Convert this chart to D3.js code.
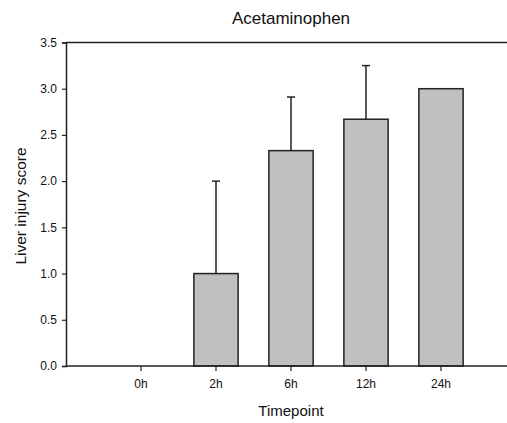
<!DOCTYPE html>
<html>
<head>
<meta charset="utf-8">
<script src="https://cdn.jsdelivr.net/npm/d3@7"></script>
<style>
  html, body { margin: 0; padding: 0; background: #fff; }
  svg { display: block; font-family: "Liberation Sans", Arial, sans-serif; }
</style>
</head>
<body>
<svg id="canvas" width="507" height="423"></svg>
<script>
// Chart data
const timepoints = ["0h", "2h", "6h", "12h", "24h"];
const scores = [0, 1.0, 2.33, 2.67, 3.0];
const errors = [0, 1.0, 0.58, 0.58, 0];
const yTicks = [0, 0.5, 1.0, 1.5, 2.0, 2.5, 3.0, 3.5];

const svg = d3.select("#canvas");
const [pl, pr, pt, pb] = [66, 516, 42.5, 366];

// the axis spans one extra category slot on each side (cropped on the right)
const step = (pr - pl) / (timepoints.length + 1);
const x = d3.scaleBand()
  .domain(timepoints)
  .range([pl + step / 2, pr - step / 2])
  .paddingInner(0.41)
  .paddingOuter(0.205);
const y = d3.scaleLinear().domain([0, 3.5]).range([pb, pt]);

const data = timepoints.map((t, i) => ({ t, v: scores[i], e: errors[i] }));

// Bars
svg.append("g")
  .selectAll("rect")
  .data(data.filter((d) => d.v > 0))
  .enter()
  .append("rect")
  .attr("x", (d) => x(d.t))
  .attr("y", (d) => y(d.v))
  .attr("width", x.bandwidth())
  .attr("height", (d) => y(0) - y(d.v))
  .attr("fill", "#c0c0c0")
  .attr("stroke", "#222")
  .attr("stroke-width", 1.5);

// Error bars (upper only)
const err = svg.append("g")
  .attr("stroke", "#222")
  .attr("stroke-width", 1.5)
  .selectAll("g")
  .data(data.filter((d) => d.e > 0))
  .enter()
  .append("g")
  .attr("transform", (d) => `translate(${x(d.t) + x.bandwidth() / 2},0)`);
err.append("line")
  .attr("y1", (d) => y(d.v))
  .attr("y2", (d) => y(d.v + d.e));
err.append("line")
  .attr("x1", -4).attr("x2", 4)
  .attr("y1", (d) => y(d.v + d.e))
  .attr("y2", (d) => y(d.v + d.e));

// Axes
const yAxis = svg.append("g")
  .attr("transform", `translate(${pl},0)`)
  .call(d3.axisLeft(y).tickValues(yTicks).tickFormat(d3.format(".1f")).tickSizeOuter(0).tickSize(4).tickPadding(5));
const xAxis = svg.append("g")
  .attr("transform", `translate(0,${pb})`)
  .call(d3.axisBottom(x).tickSizeOuter(0).tickSize(5).tickPadding(8));

// frame line on top
svg.append("line")
  .attr("x1", pl).attr("x2", pr)
  .attr("y1", pt).attr("y2", pt)
  .attr("stroke", "#222").attr("stroke-width", 1.5);

[yAxis, xAxis].forEach((a) => {
  a.select(".domain").attr("stroke", "#222").attr("stroke-width", 1.5);
  a.selectAll(".tick line").attr("stroke", "#222").attr("stroke-width", 1.2);
  a.selectAll("text").attr("font-size", 12).attr("fill", "#111")
    .attr("font-family", "Liberation Sans, Arial, sans-serif");
});
xAxis.select(".domain").attr("d", `M${pl},0H${pr}`);

// Titles
svg.append("text")
  .attr("x", (pl + pr) / 2).attr("y", 24)
  .attr("text-anchor", "middle")
  .attr("font-size", 17).attr("fill", "#111")
  .text("Acetaminophen");

svg.append("text")
  .attr("x", (pl + pr) / 2).attr("y", 416)
  .attr("text-anchor", "middle")
  .attr("font-size", 15).attr("fill", "#111")
  .text("Timepoint");

svg.append("text")
  .attr("transform", `translate(26,206) rotate(-90)`)
  .attr("text-anchor", "middle")
  .attr("font-size", 15.5).attr("fill", "#111")
  .text("Liver injury score");
</script>
</body>
</html>
